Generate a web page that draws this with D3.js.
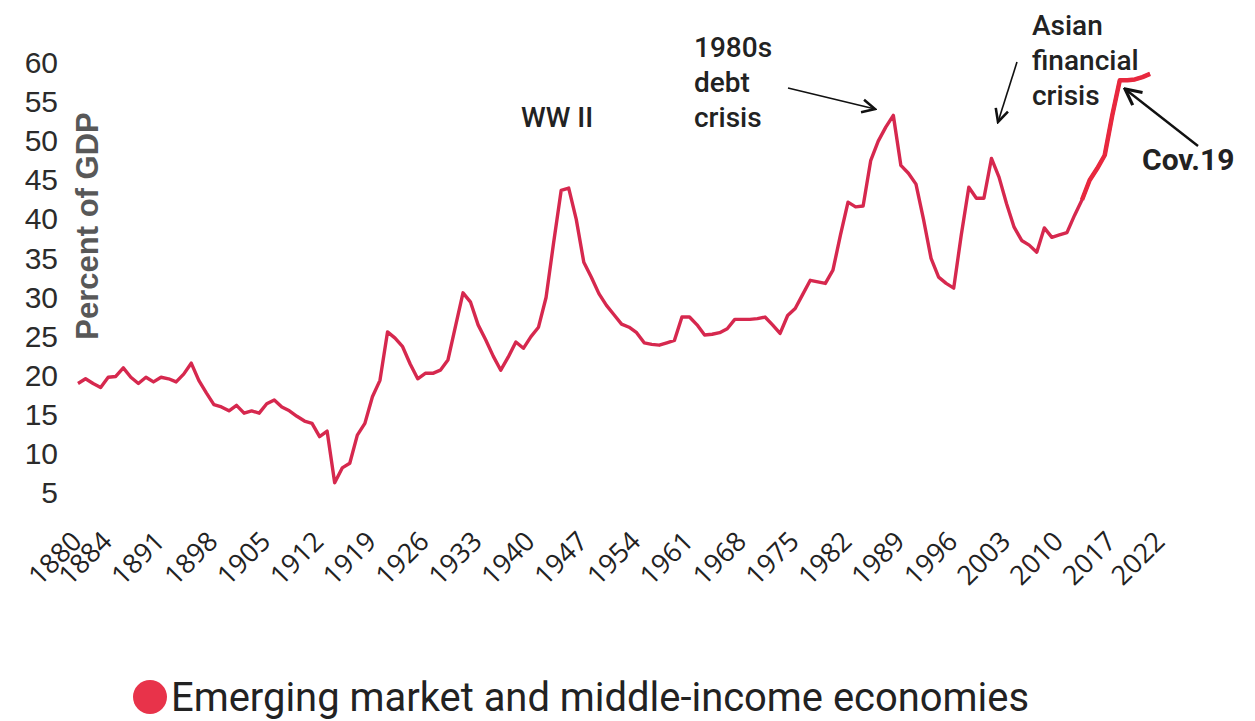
<!DOCTYPE html>
<html>
<head>
<meta charset="utf-8">
<script src="https://cdn.jsdelivr.net/npm/d3@7"></script>
<style>
  body { margin: 0; background: #fff; }
  svg { display: block; }
</style>
</head>
<body>
<div id="graph"></div>
<script>
(function() {

  // values (percent of GDP)
  const years = [
    1880, 1881, 1882, 1883, 1884, 1885, 1886, 1887, 1888, 1889,
    1890, 1891, 1892, 1893, 1894, 1895, 1896, 1897, 1898, 1899,
    1900, 1901, 1902, 1903, 1904, 1905, 1906, 1907, 1908, 1909,
    1910, 1911, 1912, 1913, 1914, 1915, 1916, 1917, 1918, 1919,
    1920, 1921, 1922, 1923, 1924, 1925, 1926, 1927, 1928, 1929,
    1930, 1931, 1932, 1933, 1934, 1935, 1936, 1937, 1938, 1939,
    1940, 1941, 1942, 1943, 1944, 1945, 1946, 1947, 1948, 1949,
    1950, 1951, 1952, 1953, 1954, 1955, 1956, 1957, 1958, 1959,
    1960, 1961, 1962, 1963, 1964, 1965, 1966, 1967, 1968, 1969,
    1970, 1971, 1972, 1973, 1974, 1975, 1976, 1977, 1978, 1979,
    1980, 1981, 1982, 1983, 1984, 1985, 1986, 1987, 1988, 1989,
    1990, 1991, 1992, 1993, 1994, 1995, 1996, 1997, 1998, 1999,
    2000, 2001, 2002, 2003, 2004, 2005, 2006, 2007, 2008, 2009,
    2010, 2011, 2012, 2013, 2014, 2015, 2016, 2017, 2018, 2019,
    2020, 2021, 2022
  ]
  const debt = [
    19.0, 19.6, 19.0, 18.5, 19.8, 19.9, 21.0, 19.8, 19.0, 19.8,
    19.2, 19.8, 19.6, 19.2, 20.2, 21.6, 19.4, 17.8, 16.3, 16.0,
    15.5, 16.2, 15.2, 15.5, 15.2, 16.4, 16.9, 16.0, 15.5, 14.8,
    14.2, 13.9, 12.2, 12.9, 6.3, 8.2, 8.8, 12.4, 13.9, 17.3,
    19.4, 25.6, 24.8, 23.7, 21.5, 19.6, 20.3, 20.3, 20.7, 22.0,
    26.3, 30.6, 29.4, 26.5, 24.6, 22.5, 20.7, 22.4, 24.3, 23.5,
    25.0, 26.2, 30.0, 37.0, 43.7, 44.0, 40.0, 34.5, 32.6, 30.5,
    29.0, 27.8, 26.6, 26.2, 25.5, 24.2, 24.0, 23.9, 24.2, 24.5,
    27.5, 27.5, 26.5, 25.2, 25.3, 25.5, 26.0, 27.2, 27.2, 27.2,
    27.3, 27.5, 26.5, 25.4, 27.7, 28.6, 30.4, 32.2, 32.0, 31.8,
    33.5, 38.0, 42.2, 41.6, 41.7, 47.5, 50.0, 51.8, 53.3, 46.9,
    45.9, 44.5, 40.0, 35.0, 32.6, 31.8, 31.2, 38.0, 44.1, 42.7,
    42.7, 47.8, 45.4, 42.0, 39.0, 37.3, 36.7, 35.8, 38.9, 37.7,
    38.0, 38.3, 40.5, 42.5, 45.0, 46.5, 48.2, 53.3, 57.8, 57.8,
    57.9, 58.2, 58.6
  ]
  const tickYears = [1880, 1884, 1891, 1898, 1905, 1912, 1919, 1926, 1933, 1940, 1947,
    1954, 1961, 1968, 1975, 1982, 1989, 1996, 2003, 2010, 2017, 2022]
  const yTicks = [5, 10, 15, 20, 25, 30, 35, 40, 45, 50, 55, 60]
  const highlightFrom = 2013
  const seriesName = "Emerging market and middle-income economies"

  const data = years.map((yr, i) => ({ year: yr, value: debt[i] }))

  const width = 1255
  const height = 721

  var svg = d3.select("#graph")
    .append("svg")
      .attr("width", width)
      .attr("height", height)

  var x = d3.scaleLinear()
    .domain([1880, 2022])
    .range([78, 1150])

  var y = d3.scaleLinear()
    .domain([0, 60])
    .range([532, 63])

  // y axis, labels only
  var yAxis = svg.append("g")
    .attr("transform", "translate(61,0)")
    .call(d3.axisLeft(y).tickValues(yTicks).tickSize(0))
  yAxis.select(".domain").remove()
  yAxis.selectAll("text")
    .attr("font-family", "Liberation Sans, Arial, sans-serif")
    .attr("font-size", 30)
    .attr("fill", "#2b2b2b")

  svg.append("text")
    .attr("transform", "translate(98,226) rotate(-90)")
    .attr("text-anchor", "middle")
    .attr("font-family", "Liberation Sans, Arial, sans-serif")
    .attr("font-weight", "bold")
    .attr("font-size", 31)
    .attr("fill", "#585858")
    .text("Percent of GDP")

  // x axis, rotated year labels (last label sits a bit wider in the original)
  var xAxis = svg.append("g")
    .attr("transform", "translate(0,543)")
    .call(d3.axisBottom(x).tickValues(tickYears).tickSize(0).tickFormat(d3.format("d")))
  xAxis.select(".domain").remove()
  xAxis.selectAll("text")
    .attr("y", 0)
    .attr("dy", 0)
    .attr("transform", d => "translate(" + (d === 2022 ? 16 : 5) + ",0) rotate(-45)")
    .attr("text-anchor", "end")
    .attr("font-family", "Open Sans, sans-serif")
    .attr("font-size", 27)
    .attr("fill", "#222")

  var line = d3.line()
    .x(function(d) { return x(d.year) })
    .y(function(d) { return y(d.value) })

  svg.append("path")
    .datum(data)
    .attr("fill", "none")
    .attr("stroke", "#d6284e")
    .attr("stroke-width", 3.4)
    .attr("stroke-linejoin", "round")
    .attr("d", line)

  svg.append("path")
    .datum(data.filter(d => d.year >= highlightFrom))
    .attr("fill", "none")
    .attr("stroke", "#e8283e")
    .attr("stroke-width", 4.5)
    .attr("stroke-linejoin", "round")
    .attr("d", line)

  // annotations
  var defs = svg.append("defs")
  function marker(id, w) {
    defs.append("marker")
      .attr("id", id)
      .attr("viewBox", "0 0 10 10")
      .attr("refX", 9).attr("refY", 5)
      .attr("markerWidth", w).attr("markerHeight", w)
      .attr("orient", "auto")
      .attr("markerUnits", "userSpaceOnUse")
      .append("path")
        .attr("d", "M1,1 L9,5 L1,9")
        .attr("fill", "none")
        .attr("stroke", "#111")
        .attr("stroke-width", 1.6)
  }
  marker("head", 16)
  marker("head2", 20)

  function label(lines, x0, y0, size, weight) {
    var t = svg.append("text")
      .attr("font-family", "Roboto, sans-serif")
      .attr("font-size", size)
      .attr("font-weight", weight)
      .attr("fill", "#222")
    lines.forEach((s, i) => {
      t.append("tspan").attr("x", x0).attr("y", y0 + i * 35).text(s)
    })
  }
  label(["WW II"], 521, 127, 28, 500)
  label(["1980s", "debt", "crisis"], 694, 57, 28, 500)
  label(["Asian", "financial", "crisis"], 1032, 35, 28, 500)
  label(["Cov.19"], 1142, 170, 30, 700)

  function arrow(x1, y1, x2, y2, w, m) {
    svg.append("line")
      .attr("x1", x1).attr("y1", y1)
      .attr("x2", x2).attr("y2", y2)
      .attr("stroke", "#111")
      .attr("stroke-width", w)
      .attr("marker-end", "url(#" + m + ")")
  }
  arrow(788, 88, 875, 109, 1.6, "head")
  arrow(1017, 62, 998, 122, 1.6, "head")
  arrow(1198, 146, 1125, 89, 2.4, "head2")

  // legend
  svg.append("circle")
    .attr("cx", 150).attr("cy", 697).attr("r", 17)
    .attr("fill", "#e8334a")
  svg.append("text")
    .attr("x", 171).attr("y", 711)
    .attr("font-family", "Roboto, sans-serif")
    .attr("font-size", 40)
    .attr("fill", "#222")
    .attr("textLength", 858)
    .attr("lengthAdjust", "spacingAndGlyphs")
    .text(seriesName)

})();
</script>
</body>
</html>
